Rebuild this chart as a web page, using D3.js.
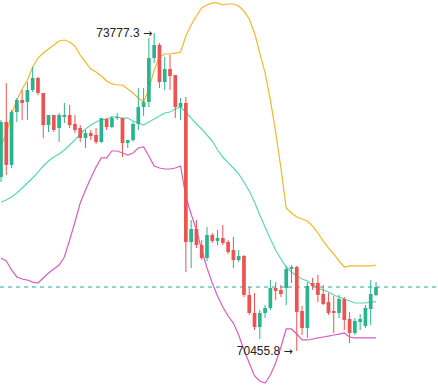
<!DOCTYPE html>
<meta charset="utf-8">
<style>
    body { margin: 0; background: #fff; }
    svg { display: block; }
</style>
<svg width="438" height="385" font-family="Liberation Sans, Arial, sans-serif" font-size="12"></svg>
<script src="https://cdn.jsdelivr.net/npm/d3@7/dist/d3.min.js"></script>
<script>

    // candles, one per period
    var open  = [72273, 72848, 72399, 72952, 73078, 73057, 73182, 73307, 73151, 72816, 72921, 72785, 72900, 72921, 72827, 72785, 72681, 72733, 72712, 72639, 72879, 72795, 72889, 72889, 72628, 72660, 72827, 73004, 73057, 73516, 73652, 73265, 73401, 73339, 73004, 73046, 71594, 71730, 71563, 71427, 71667, 71605, 71636, 71594, 71511, 71406, 71448, 71041, 70853, 70706, 70853, 70905, 71114, 71093, 71114, 71312, 71333, 70874, 70696, 71166, 71166, 71051, 70968, 70874, 70853, 70999, 70790, 70644, 70759, 70717, 70894, 71041];
    var high  = [72869, 73255, 72973, 73098, 73182, 73265, 73422, 73318, 73151, 72921, 72921, 72942, 73046, 73025, 72921, 72816, 72764, 72764, 72785, 72889, 72889, 72910, 72942, 72889, 72660, 72848, 73203, 73203, 73725, 73777.3, 73673, 73527, 73547, 73339, 73098, 73109, 71824, 71824, 71615, 71751, 71688, 71720, 71772, 71615, 71647, 71511, 71458, 71124, 71062, 70884, 70936, 71197, 71176, 71145, 71344, 71354, 71344, 70926, 71176, 71218, 71250, 71145, 71062, 71030, 71041, 71020, 70863, 70800, 70842, 70936, 71197, 71176];
    var low   = [72221, 72294, 72367, 72848, 72869, 72869, 73161, 73130, 72681, 72743, 72743, 72639, 72837, 72785, 72733, 72639, 72576, 72660, 72618, 72628, 72764, 72785, 72869, 72482, 72576, 72639, 72764, 72910, 73004, 73464, 73203, 73182, 73182, 72889, 72869, 71281, 71323, 71532, 71406, 71396, 71584, 71563, 71563, 71469, 71323, 71385, 71020, 70832, 70675, 70581, 70800, 70884, 70988, 71020, 70936, 71166, 70455.8, 70623, 70592, 71093, 70968, 70936, 70832, 70644, 70800, 70675, 70539, 70623, 70675, 70696, 70727, 71030];
    var close = [72848, 72399, 72952, 73078, 73046, 73182, 73307, 73151, 72816, 72921, 72764, 72921, 72921, 72816, 72764, 72681, 72733, 72701, 72639, 72889, 72795, 72889, 72900, 72628, 72660, 72827, 73004, 73057, 73516, 73652, 73265, 73401, 73328, 73004, 73046, 71594, 71730, 71563, 71427, 71667, 71605, 71636, 71584, 71490, 71406, 71448, 71041, 70853, 70706, 70853, 70905, 71114, 71082, 71051, 71312, 71333, 70863, 70696, 71135, 71135, 71041, 70947, 70853, 70853, 70999, 70780, 70644, 70769, 70790, 70905, 71051, 71124];

    // bollinger bands
    var upper = [72597, 72722, 72931, 73078, 73192, 73286, 73422, 73516, 73568, 73610, 73652, 73694, 73704, 73683, 73641, 73547, 73474, 73401, 73370, 73328, 73276, 73245, 73234, 73234, 73192, 73151, 73098, 73057, 73192, 73391, 73527, 73558, 73558, 73568, 73579, 73746, 73861, 73955, 74038, 74070, 74091, 74091, 74070, 74080, 74080, 74059, 74007, 73924, 73777, 73568, 73360, 73078, 72743, 72367, 71949, 71897, 71855, 71835, 71814, 71761, 71688, 71605, 71532, 71469, 71396, 71333, 71344, 71344, 71344, 71344, 71344, 71354];
    var middle = [72012, 72033, 72064, 72106, 72158, 72211, 72263, 72325, 72388, 72440, 72482, 72513, 72555, 72607, 72660, 72722, 72775, 72816, 72848, 72869, 72879, 72900, 72900, 72889, 72889, 72858, 72837, 72816, 72848, 72879, 72910, 72942, 72952, 72983, 73004, 72952, 72889, 72827, 72775, 72712, 72649, 72555, 72482, 72420, 72367, 72305, 72221, 72127, 72012, 71876, 71751, 71626, 71511, 71417, 71333, 71281, 71239, 71208, 71187, 71145, 71114, 71093, 71072, 71041, 71020, 70999, 70978, 70957, 70957, 70957, 70968, 70968];
    var lower = [71427, 71396, 71302, 71229, 71208, 71197, 71176, 71166, 71218, 71270, 71312, 71354, 71438, 71615, 71803, 72002, 72137, 72263, 72378, 72472, 72472, 72545, 72545, 72524, 72503, 72524, 72576, 72587, 72493, 72388, 72367, 72357, 72357, 72367, 72388, 72064, 71887, 71720, 71511, 71323, 71166, 71030, 70915, 70821, 70748, 70623, 70466, 70330, 70195, 70142, 70122, 70205, 70330, 70498, 70686, 70686, 70633, 70571, 70571, 70581, 70592, 70602, 70612, 70623, 70633, 70644, 70602, 70592, 70592, 70592, 70592, 70592];

    var svg = d3.select("svg"),
        width = +svg.attr("width"),
        height = +svg.attr("height");

    var n = close.length;

    var x = d3.scaleLinear()
        .domain([0, n - 1])
        .range([1, 376]);

    var y = d3.scaleLinear()
        .domain([70455.8, 73777.3])
        .range([351, 33]);

    var step = x(1) - x(0),
        bodyW = step * 0.7;

    var up = "#2bb38e", down = "#ef5350";

    var idx = d3.range(n);

    var line = function (vals) {
        return d3.line()
            .x(function (i) { return x(i); })
            .y(function (i) { return y(vals[i]); })(idx);
    };

    // bands
    svg.append("path").attr("d", line(upper)).attr("fill", "none").attr("stroke", "#f5b72a").attr("stroke-width", 1.2);
    svg.append("path").attr("d", line(middle)).attr("fill", "none").attr("stroke", "#5cd6b3").attr("stroke-width", 1.2);
    svg.append("path").attr("d", line(lower)).attr("fill", "none").attr("stroke", "#d65fbf").attr("stroke-width", 1.2);

    // last price line
    svg.append("line")
        .attr("x1", 0)
        .attr("x2", width)
        .attr("y1", y(close[n - 1]))
        .attr("y2", y(close[n - 1]))
        .attr("stroke", "#26a69a")
        .attr("stroke-dasharray", "4,4");

    var candle = svg.append("g")
        .selectAll("g")
        .data(idx)
        .enter().append("g")
        .attr("fill", function (i) { return close[i] >= open[i] ? up : down; })
        .attr("stroke", function (i) { return close[i] >= open[i] ? up : down; });

    candle.append("line")
        .attr("x1", function (i) { return x(i); })
        .attr("x2", function (i) { return x(i); })
        .attr("y1", function (i) { return y(high[i]); })
        .attr("y2", function (i) { return y(low[i]); })
        .attr("stroke-width", 1);

    candle.append("rect")
        .attr("x", function (i) { return x(i) - bodyW / 2; })
        .attr("width", bodyW)
        .attr("y", function (i) { return y(Math.max(open[i], close[i])); })
        .attr("height", function (i) { return Math.max(1, Math.abs(y(open[i]) - y(close[i]))); })
        .attr("stroke", "none");

    // max / min labels
    var hi = d3.maxIndex(high), lo = d3.minIndex(low);

    function mark(px, py, v) {
        var t = svg.append("text")
            .attr("x", px)
            .attr("y", py)
            .attr("dy", "0.35em")
            .attr("text-anchor", "end")
            .attr("fill", "#222");
        t.append("tspan").text(v.toFixed(1) + " ");
        t.append("tspan").attr("font-family", "DejaVu Sans").attr("font-size", 11).text("\u2192");
    }

    mark(x(hi) - 2, y(high[hi]), high[hi]);
    mark(x(lo) - 4, y(low[lo]), low[lo]);
</script>
